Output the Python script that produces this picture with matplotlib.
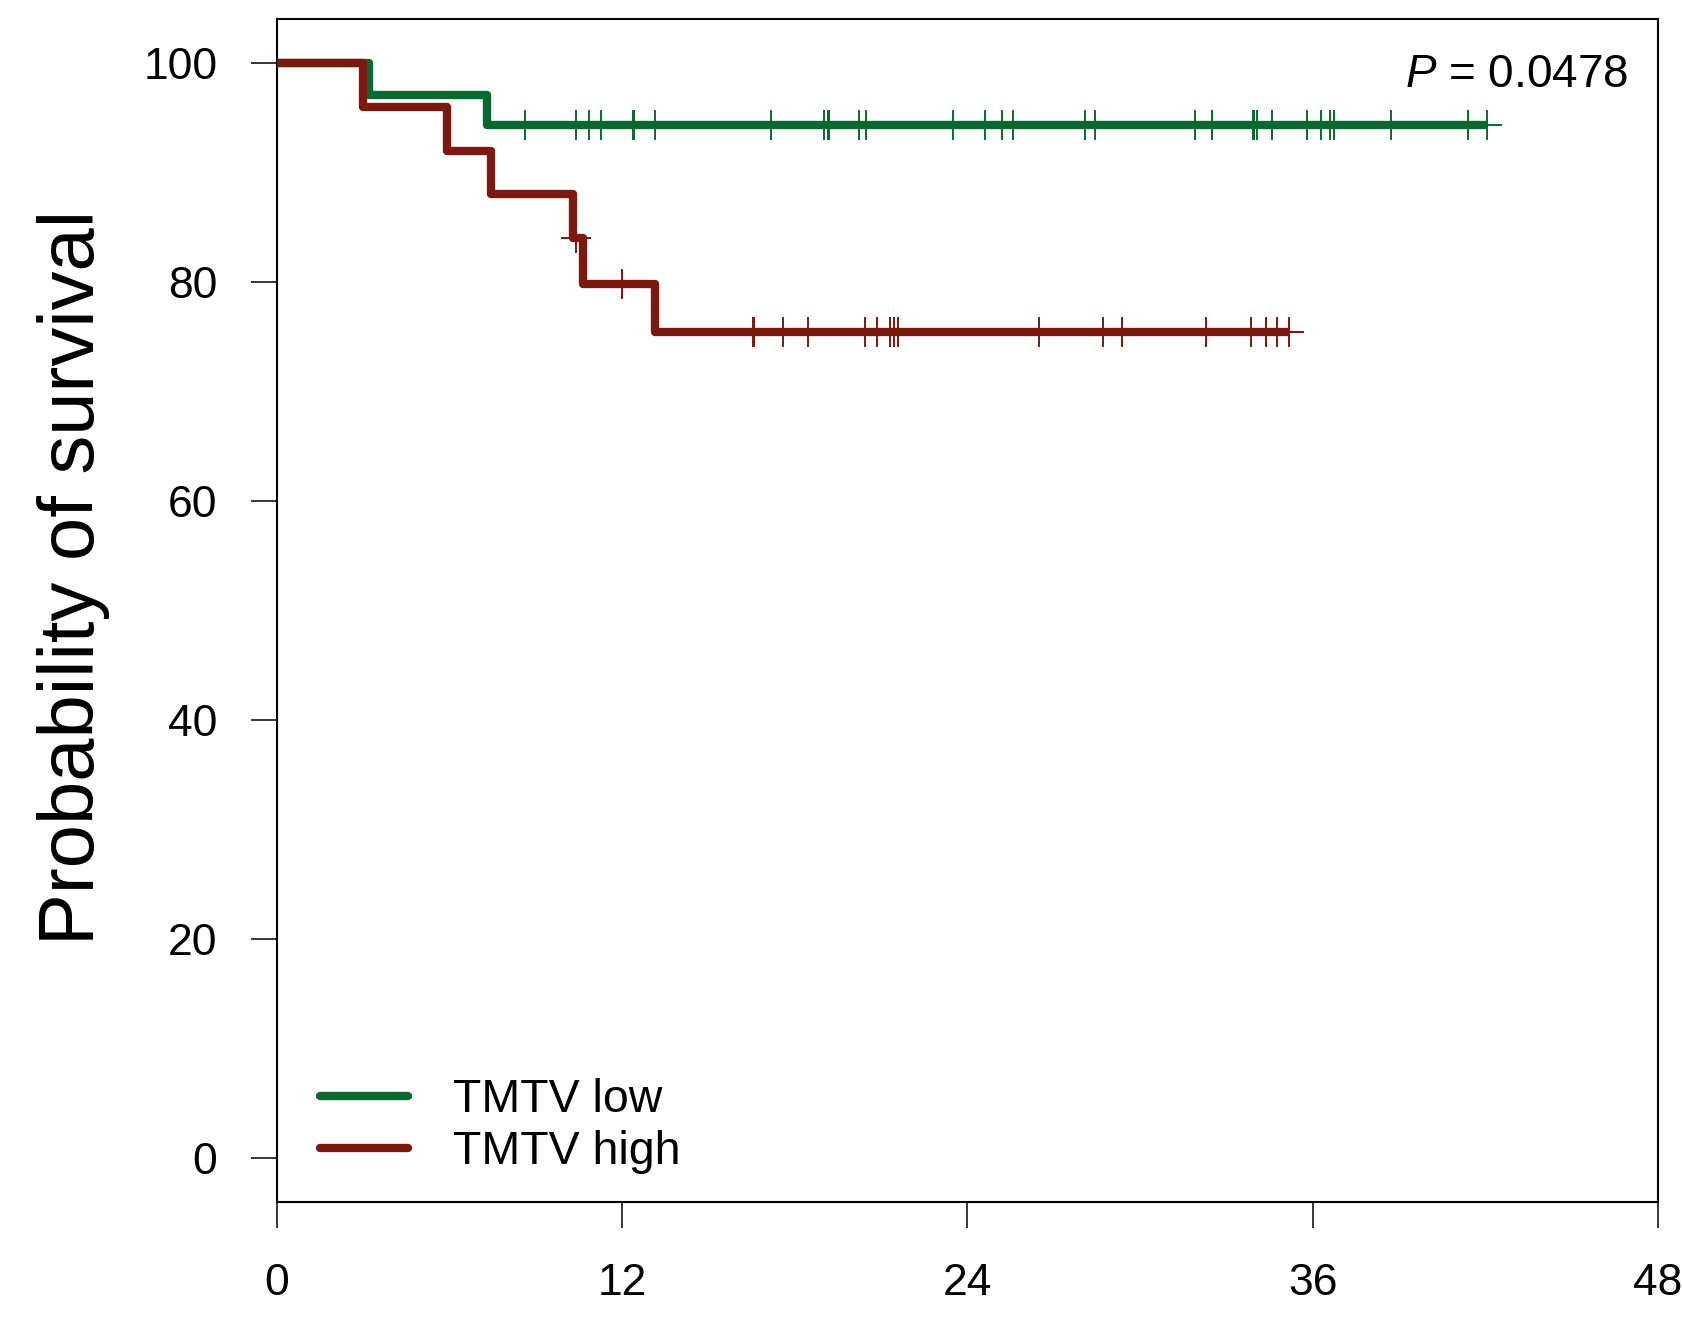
import numpy as np
import matplotlib
matplotlib.use("Agg")
import matplotlib.pyplot as plt
from matplotlib.lines import Line2D

plt.rcParams["font.family"] = ["Liberation Sans", "DejaVu Sans"]
plt.rcParams["mathtext.fontset"] = "custom"
plt.rcParams["mathtext.it"] = "Liberation Sans:italic"
plt.rcParams["mathtext.rm"] = "Liberation Sans"

GREEN = "#096830"
RED = "#7B1911"

# Kaplan-Meier steps (months, % surviving)
low_event_t = [0, 3.2, 7.3]
low_event_s = [100, 97.1, 94.3]
low_censor_t = [8.62, 10.40, 10.86, 11.25, 12.36, 12.42, 13.15, 17.17, 19.01, 19.14,
                19.19, 20.23, 20.49, 23.50, 24.60, 25.19, 25.59, 28.07, 28.43, 31.90,
                32.51, 33.93, 33.97, 34.08, 34.57, 35.80, 36.28, 36.59, 36.73, 38.71,
                41.41, 42.07]
low_end = 42.1

high_event_t = [0, 3.0, 5.9, 7.45, 10.3, 10.65, 13.15]
high_event_s = [100, 96, 92, 88, 84, 79.8, 75.4]
high_censor_t = [10.4, 12.0, 16.53, 16.58, 17.59, 18.45, 20.43, 20.85, 21.30, 21.43,
                 21.57, 26.49, 28.71, 29.36, 32.29, 33.87, 34.37, 34.75, 35.17]
high_end = 35.2

x_ticks = [0, 12, 24, 36, 48]
y_ticks = [0, 20, 40, 60, 80, 100]
p_text = r"$\mathit{P}$ = 0.0478"


def km_curve(event_t, event_s, end_t):
    t = list(event_t) + [end_t]
    s = list(event_s) + [event_s[-1]]
    return t, s


def surv_at(event_t, event_s, t):
    idx = np.searchsorted(event_t, t, side="right") - 1
    return np.asarray(event_s)[idx]


fig = plt.figure(figsize=(16.83, 13.36), dpi=100)
ax = fig.add_axes([0.1646, 0.1003, 0.8205, 0.8853])

lw = 6
for ev_t, ev_s, cen_t, end_t, color, z in [
    (low_event_t, low_event_s, low_censor_t, low_end, GREEN, 2),
    (high_event_t, high_event_s, high_censor_t, high_end, RED, 4),
]:
    t, s = km_curve(ev_t, ev_s, end_t)
    ax.plot(t, s, drawstyle="steps-post", color=color, lw=lw,
            solid_joinstyle="round", solid_capstyle="butt", zorder=z)
    ax.plot(cen_t, surv_at(ev_t, ev_s, cen_t), ls="none", marker="+",
            ms=22, mew=1.4, color=color, zorder=z + 1)

ax.set_xlim(0, 48)
ax.set_ylim(-4, 104)
ax.set_xticks(x_ticks)
ax.set_yticks(y_ticks)
ax.tick_params(axis="both", direction="out", length=19, width=1.1,
               labelsize=32, color="black")
ax.tick_params(axis="y", pad=24)
ax.tick_params(axis="x", pad=25)
for sp in ax.spines.values():
    sp.set_linewidth(1.5)

ax.set_ylabel("Probability of survival", fontsize=56)
ax.yaxis.set_label_coords(-0.121, 0.528)

ax.text(46.98, 97.8, p_text, ha="right", va="baseline", fontsize=33)

handles = [Line2D([], [], color=GREEN, lw=lw, solid_capstyle="round"),
           Line2D([], [], color=RED, lw=lw, solid_capstyle="round")]
ax.legend(handles, ["TMTV low", "TMTV high"], loc="center left",
          bbox_to_anchor=(0.031, 0.064), frameon=False, fontsize=33.5,
          handlelength=1.89, handletextpad=0.97, labelspacing=0.18,
          borderpad=0, borderaxespad=0)

fig.savefig("out.png", dpi=100, facecolor="white")
